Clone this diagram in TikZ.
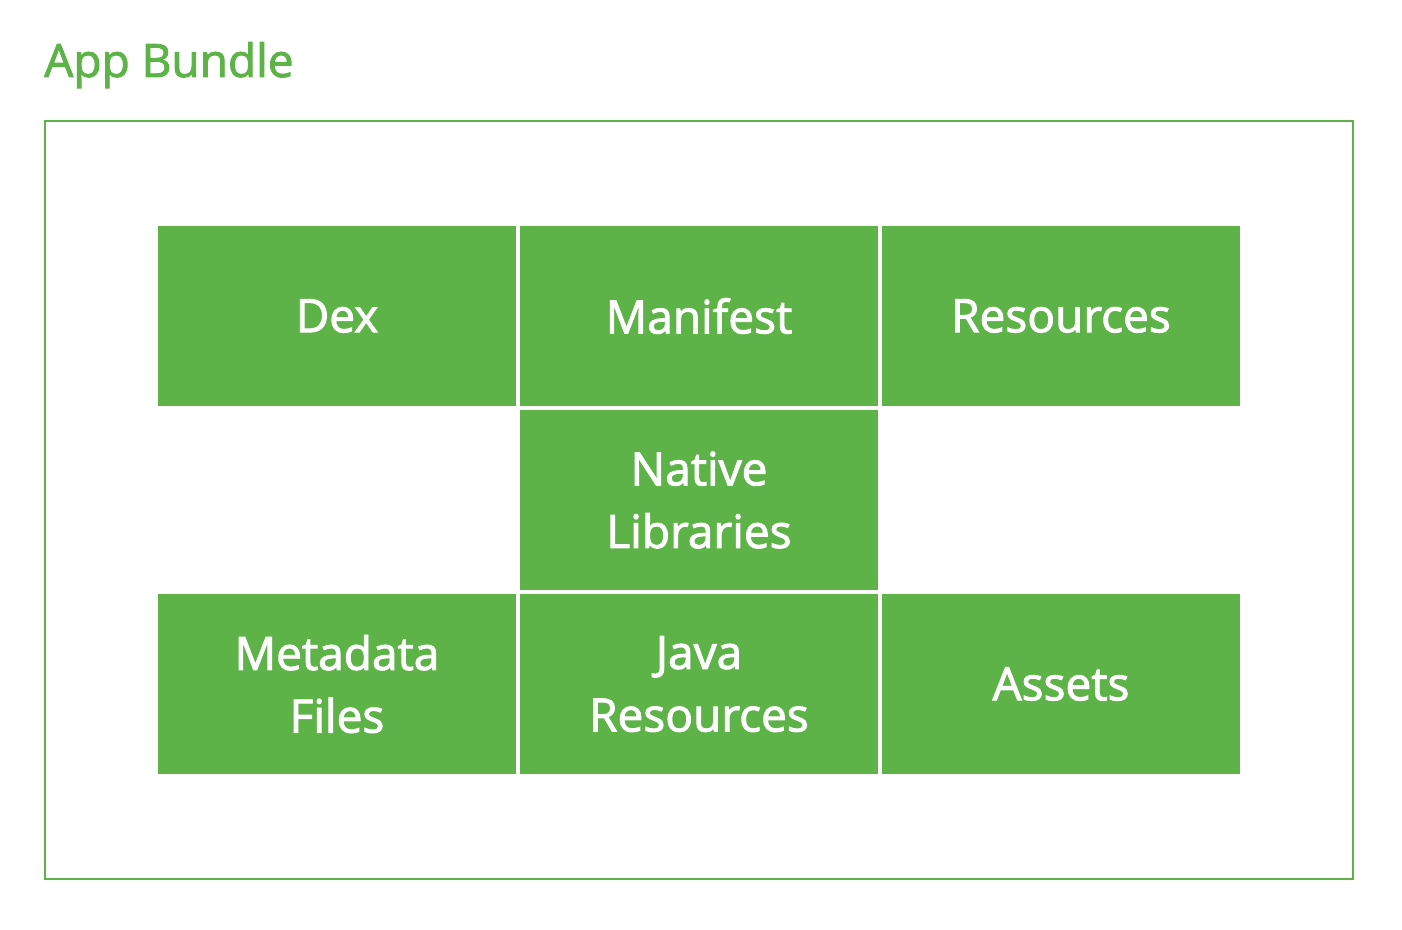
\documentclass[tikz,border=0pt]{standalone}
\usepackage{fontspec}
\setmainfont{Open Sans}
\newfontfamily\mediumfont{Open Sans}[FakeBold=2.0]
\usetikzlibrary{positioning}
\definecolor{bundlegreen}{RGB}{94,179,72}

\begin{document}
\begin{tikzpicture}[x=0.75pt, y=-0.75pt]
				\tikzstyle{Part} = [rectangle, minimum width=268.5pt, minimum height=135pt, inner sep=0pt, text centered, align=center, fill=bundlegreen, text=white, font=\mediumfont\fontsize{34.5}{47}\selectfont]
				\tikzstyle{frame} = [draw=bundlegreen, line width=1.5pt]
				
				\useasboundingbox (0, 0) rectangle (1402, 930);
				\node (title) [anchor=base west, inner sep=0pt, text=bundlegreen, font=\mediumfont\fontsize{34.5}{47}\selectfont] at (44, 77) {App Bundle};
				\draw [frame] (45, 121) rectangle (1353, 879);
				\node (dex) [Part] at (337, 316) {Dex};
				\node (manifest) [Part] at (699, 316) {Manifest};
				\node (res) [Part] at (1061, 316) {Resources};
				\node (native) [Part] at (699, 500) {Native\\Libraries};
				\node (meta) [Part] at (337, 684) {Metadata\\Files};
				\node (java) [Part] at (699, 684) {Java\\Resources};
				\node (assets) [Part] at (1061, 684) {Assets};
			\end{tikzpicture}
\end{document}
